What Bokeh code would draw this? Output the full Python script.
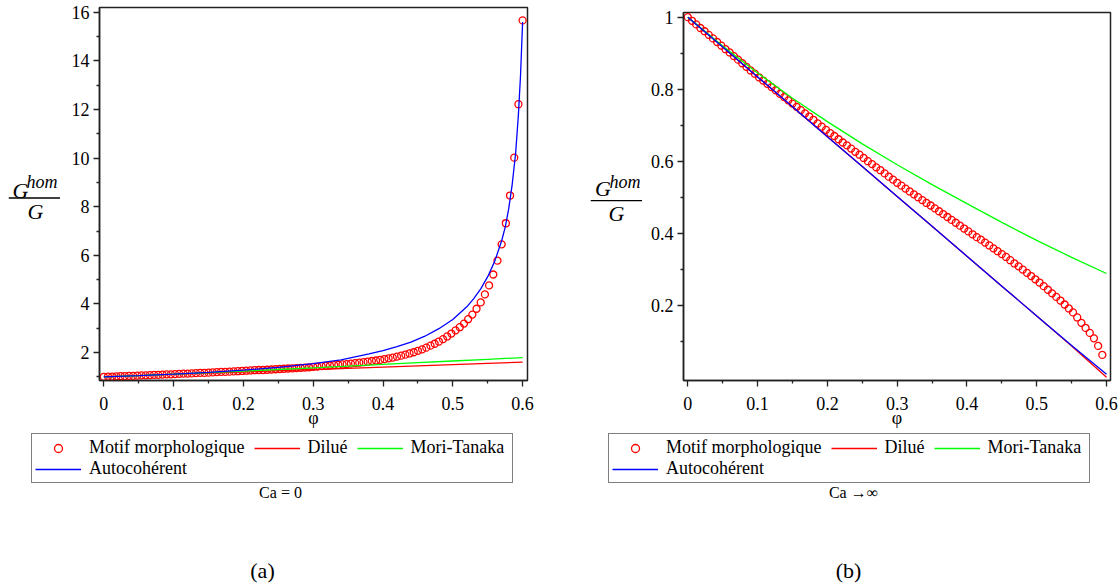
from bokeh.plotting import figure
from bokeh.models import (Range1d, FixedTicker, CustomJSTickFormatter, Legend, LegendItem,
                          Label, Span, Spacer)
from bokeh.layouts import row, column
from bokeh.embed import file_html
from bokeh.resources import INLINE

# ---------------- data ----------------
phi_motif_a = [0.000, 0.006, 0.012, 0.018, 0.024, 0.030, 0.036, 0.042, 0.048, 0.054,
               0.060, 0.066, 0.072, 0.078, 0.084, 0.090, 0.096, 0.102, 0.108, 0.114,
               0.120, 0.126, 0.132, 0.138, 0.144, 0.150, 0.156, 0.162, 0.168, 0.174,
               0.180, 0.186, 0.192, 0.198, 0.204, 0.210, 0.216, 0.222, 0.228, 0.234,
               0.240, 0.246, 0.252, 0.258, 0.264, 0.270, 0.276, 0.282, 0.288, 0.294,
               0.300, 0.306, 0.312, 0.318, 0.324, 0.330, 0.336, 0.342, 0.348, 0.354,
               0.360, 0.366, 0.372, 0.378, 0.384, 0.390, 0.396, 0.402, 0.408, 0.414,
               0.420, 0.426, 0.432, 0.438, 0.444, 0.450, 0.456, 0.462, 0.468, 0.474,
               0.480, 0.486, 0.492, 0.498, 0.504, 0.510, 0.516, 0.522, 0.528, 0.534,
               0.540, 0.546, 0.552, 0.558, 0.564, 0.570, 0.576, 0.582, 0.588, 0.594,
               0.600]
motif_a = [1.00, 1.01, 1.01, 1.02, 1.03, 1.03, 1.04, 1.04, 1.05, 1.06,
           1.06, 1.07, 1.08, 1.08, 1.09, 1.10, 1.10, 1.11, 1.12, 1.13,
           1.13, 1.14, 1.15, 1.16, 1.16, 1.17, 1.18, 1.19, 1.20, 1.20,
           1.21, 1.22, 1.23, 1.24, 1.25, 1.26, 1.27, 1.28, 1.28, 1.29,
           1.30, 1.31, 1.32, 1.33, 1.34, 1.35, 1.36, 1.37, 1.38, 1.39,
           1.41, 1.42, 1.44, 1.45, 1.46, 1.48, 1.49, 1.51, 1.52, 1.54,
           1.56, 1.58, 1.60, 1.62, 1.65, 1.67, 1.70, 1.73, 1.76, 1.79,
           1.83, 1.87, 1.91, 1.96, 2.01, 2.07, 2.13, 2.20, 2.28, 2.36,
           2.45, 2.55, 2.66, 2.78, 2.91, 3.04, 3.19, 3.37, 3.56, 3.80,
           4.06, 4.39, 4.76, 5.21, 5.78, 6.45, 7.32, 8.46, 10.02, 12.22,
           15.67]

phi_lines = [0.00, 0.05, 0.10, 0.15, 0.20, 0.25, 0.30, 0.35, 0.40, 0.45, 0.50, 0.55, 0.60]
dilue_a = [1.00, 1.05, 1.10, 1.15, 1.20, 1.25, 1.30, 1.35, 1.40, 1.45, 1.50, 1.55, 1.60]
mori_a = [1.00, 1.05, 1.11, 1.17, 1.23, 1.30, 1.37, 1.44, 1.51, 1.58, 1.65, 1.72, 1.79]
phi_auto_a = [0.00, 0.05, 0.10, 0.15, 0.20, 0.25, 0.30, 0.34, 0.38, 0.40, 0.42, 0.44,
              0.46, 0.48, 0.50, 0.52, 0.53, 0.54, 0.55, 0.56, 0.57, 0.575, 0.58,
              0.585, 0.59, 0.594, 0.597, 0.600]
auto_a = [1.00, 1.05, 1.11, 1.18, 1.27, 1.39, 1.54, 1.70, 1.94, 2.08, 2.24, 2.43,
          2.67, 2.98, 3.36, 3.88, 4.22, 4.62, 5.12, 5.75, 6.60, 7.15, 7.90,
          8.90, 10.20, 11.80, 13.40, 15.60]

phi_motif_b = phi_motif_a[:100]
motif_b = [1.000, 0.990, 0.980, 0.970, 0.961, 0.951, 0.941, 0.931, 0.921, 0.911,
           0.902, 0.892, 0.882, 0.872, 0.862, 0.852, 0.843, 0.833, 0.824, 0.815,
           0.806, 0.797, 0.787, 0.778, 0.769, 0.760, 0.751, 0.742, 0.733, 0.724,
           0.715, 0.705, 0.696, 0.687, 0.678, 0.670, 0.661, 0.652, 0.644, 0.635,
           0.626, 0.618, 0.609, 0.600, 0.592, 0.583, 0.575, 0.566, 0.557, 0.549,
           0.540, 0.532, 0.524, 0.516, 0.508, 0.500, 0.492, 0.484, 0.477, 0.469,
           0.461, 0.453, 0.445, 0.437, 0.429, 0.421, 0.413, 0.405, 0.397, 0.389,
           0.382, 0.374, 0.366, 0.358, 0.350, 0.342, 0.334, 0.325, 0.316, 0.308,
           0.299, 0.290, 0.281, 0.272, 0.263, 0.253, 0.243, 0.233, 0.223, 0.213,
           0.202, 0.191, 0.180, 0.166, 0.151, 0.137, 0.123, 0.108, 0.087, 0.062]
dilue_b = [1.000, 0.917, 0.834, 0.751, 0.668, 0.585, 0.502, 0.419, 0.336, 0.253, 0.170, 0.087, 0.000]
mori_b = [1.000, 0.920, 0.845, 0.775, 0.710, 0.648, 0.590, 0.535, 0.482, 0.430, 0.380, 0.333, 0.288]
auto_b = [1.000, 0.917, 0.834, 0.751, 0.668, 0.585, 0.502, 0.419, 0.336, 0.253, 0.170, 0.088, 0.008]

x_ticks = [0.0, 0.1, 0.2, 0.3, 0.4, 0.5, 0.6]
x_minor = [0.05, 0.15, 0.25, 0.35, 0.45, 0.55]
ya_ticks = [2, 4, 6, 8, 10, 12, 14, 16]
ya_minor = [1, 3, 5, 7, 9, 11, 13, 15]
yb_ticks = [0.2, 0.4, 0.6, 0.8, 1.0]
yb_minor = [0.1, 0.3, 0.5, 0.7, 0.9]

labels = ["Motif morphologique", "Dilué", "Mori-Tanaka", "Autocohérent"]
captions = ["Ca = 0", "Ca \u2192\u221e"]
panel_tags = ["(a)", "(b)"]

SERIF = "Liberation Serif"
RED, GREEN, BLUE = "#ff0000", "#00ff00", "#0000ff"
AX = "#222222"
TOP_H = 430      # height of the plot row
BOT_H = 155      # height of the legend / caption strip
NAN = float("nan")

fmt = CustomJSTickFormatter(code="return String(Number(tick.toFixed(3)));")


def aux_fig(w, h, y0=None, y1=None):
    f = figure(width=w, height=h, x_range=Range1d(0, w),
               y_range=Range1d(0 if y0 is None else y0, h if y1 is None else y1),
               output_backend="svg", toolbar_location=None, title=None,
               x_axis_location=None, y_axis_location=None, min_border=0)
    f.outline_line_color = None
    f.grid.visible = False
    f.background_fill_color = "white"
    f.border_fill_color = "white"
    return f


def main_fig(w, xr, yr, yt, ym, mb, motif_x, motif_y, dil, mori, auto_x, auto_y):
    p = figure(width=w, height=TOP_H, x_range=Range1d(*xr), y_range=Range1d(*yr),
               output_backend="svg", toolbar_location=None, title=None,
               min_border_left=mb[0], min_border_right=mb[1],
               min_border_top=mb[2], min_border_bottom=mb[3])
    p.xgrid.visible = False
    p.ygrid.visible = False
    p.outline_line_color = AX
    p.outline_line_width = 1.5
    p.xaxis.ticker = FixedTicker(ticks=x_ticks, minor_ticks=x_minor)
    p.yaxis.ticker = FixedTicker(ticks=yt, minor_ticks=ym)
    for ax in p.axis:
        ax.formatter = fmt
        ax.axis_line_color = AX
        ax.axis_line_width = 1.5
        ax.major_tick_line_color = AX
        ax.minor_tick_line_color = AX
        ax.major_tick_line_width = 1.3
        ax.minor_tick_line_width = 1.3
        ax.major_tick_in = 0
        ax.major_tick_out = 6
        ax.minor_tick_in = 0
        ax.minor_tick_out = 3
        ax.major_label_text_font = SERIF
        ax.major_label_text_font_size = "18px"
        ax.major_label_text_color = "black"
    p.xaxis.major_label_standoff = 10
    p.yaxis.major_label_standoff = 4
    p.xaxis.axis_label = "\u03c6"
    p.xaxis.axis_label_text_font = SERIF
    p.xaxis.axis_label_text_font_style = "normal"
    p.xaxis.axis_label_text_font_size = "18px"
    p.xaxis.axis_label_text_color = "black"
    p.xaxis.axis_label_standoff = -5

    p.scatter(motif_x, motif_y, marker="circle", size=7, fill_color=None,
              line_color=RED, line_width=1.3)
    p.line(phi_lines, dil, line_color=RED, line_width=1.3)
    p.line(phi_lines, mori, line_color=GREEN, line_width=1.3)
    p.line(auto_x, auto_y, line_color=BLUE, line_width=1.3)
    return p


def ylabel_fig(w, frame_top, frame_bottom, g, h, bar_y, d):
    """Fraction G^hom / G.  Its frame is aligned with the neighbouring plot frame,
    so the range is chosen to make data y == TOP_H - page y."""
    f = aux_fig(w, TOP_H, y0=TOP_H - frame_bottom, y1=TOP_H - frame_top)
    specs = [(g, "G", "22px", "center"),
             (h, "hom", "18px", "left"),
             (d, "G", "22px", "center")]
    for (px, py), txt, size, align in specs:
        f.add_layout(Label(x=px, y=TOP_H - py, text=txt, text_font=SERIF,
                           text_font_size=size, text_font_style="italic",
                           text_align=align, text_baseline="middle", text_color="black"))
    f.add_layout(Span(location=TOP_H - bar_y, dimension="width",
                      line_color="black", line_width=1.3))
    return f


def caption_fig(w, leg_loc, cap_xy, caption, tag_xy, tag):
    f = aux_fig(w, BOT_H)
    # legend swatches only (a single NaN point: nothing is drawn in the strip itself)
    r0 = f.scatter([NAN], [NAN], marker="circle", size=7, fill_color=None, line_color=RED, line_width=1.3)
    r1 = f.line([NAN], [NAN], line_color=RED, line_width=1.3)
    r2 = f.line([NAN], [NAN], line_color=GREEN, line_width=1.3)
    r3 = f.line([NAN], [NAN], line_color=BLUE, line_width=1.3)
    items = [LegendItem(label=labels[0] + "  ", renderers=[r0]),
             LegendItem(label=labels[1] + "  ", renderers=[r1]),
             LegendItem(label=labels[2] + " ", renderers=[r2]),
             LegendItem(label=labels[3], renderers=[r3])]
    leg = Legend(items=items, location=leg_loc, orientation="horizontal", ncols=3,
                 label_text_font=SERIF, label_text_font_size="18px", label_text_color="black",
                 glyph_width=46, glyph_height=20, label_standoff=8, spacing=0,
                 padding=3, margin=0, border_line_color="black", border_line_width=1,
                 background_fill_color="white", background_fill_alpha=1.0)
    f.add_layout(leg, "center")
    f.add_layout(Label(x=cap_xy[0], y=BOT_H - (cap_xy[1] - TOP_H), text=caption,
                       text_font=SERIF, text_font_size="16px", text_align="center",
                       text_baseline="middle", text_color="black"))
    f.add_layout(Label(x=tag_xy[0], y=BOT_H - (tag_xy[1] - TOP_H), text=tag,
                       text_font=SERIF, text_font_size="22px", text_align="center",
                       text_baseline="middle", text_color="black"))
    return f


# ---- panel (a): page x 0..560 ----
yl_a = ylabel_fig(52, 7, 380, g=(12, 190), h=(18, 181), bar_y=197.5, d=(27, 211))
pa = main_fig(500, xr=(-0.0062, 0.607), yr=(0.847, 16.2), yt=ya_ticks, ym=ya_minor,
              mb=(39, 33, 7, 50), motif_x=phi_motif_a, motif_y=motif_a,
              dil=dilue_a, mori=mori_a, auto_x=phi_auto_a, auto_y=auto_a)
cap_a = caption_fig(560, leg_loc=(31, 102), cap_xy=(280, 492), caption=captions[0],
                    tag_xy=(262, 570), tag=panel_tags[0])
top_a = row(Spacer(width=8, height=TOP_H), yl_a, pa)

# ---- panel (b): page x 560..1120 ----
yl_b = ylabel_fig(52, 12, 383, g=(12.5, 189.5), h=(19, 183), bar_y=201.7, d=(26, 215))
pb = main_fig(478, xr=(-0.0062, 0.6057), yr=(-0.0091, 1.013), yt=yb_ticks, ym=yb_minor,
              mb=(41, 10, 12, 47), motif_x=phi_motif_b, motif_y=motif_b,
              dil=dilue_b, mori=mori_b, auto_x=phi_lines, auto_y=auto_b)
cap_b = caption_fig(560, leg_loc=(48, 102), cap_xy=(293, 492), caption=captions[1],
                    tag_xy=(288, 570), tag=panel_tags[1])
top_b = row(Spacer(width=30, height=TOP_H), yl_b, pb)

layout = row(column(top_a, cap_a), column(top_b, cap_b))
open("out.html", "w").write(file_html(layout, INLINE))
